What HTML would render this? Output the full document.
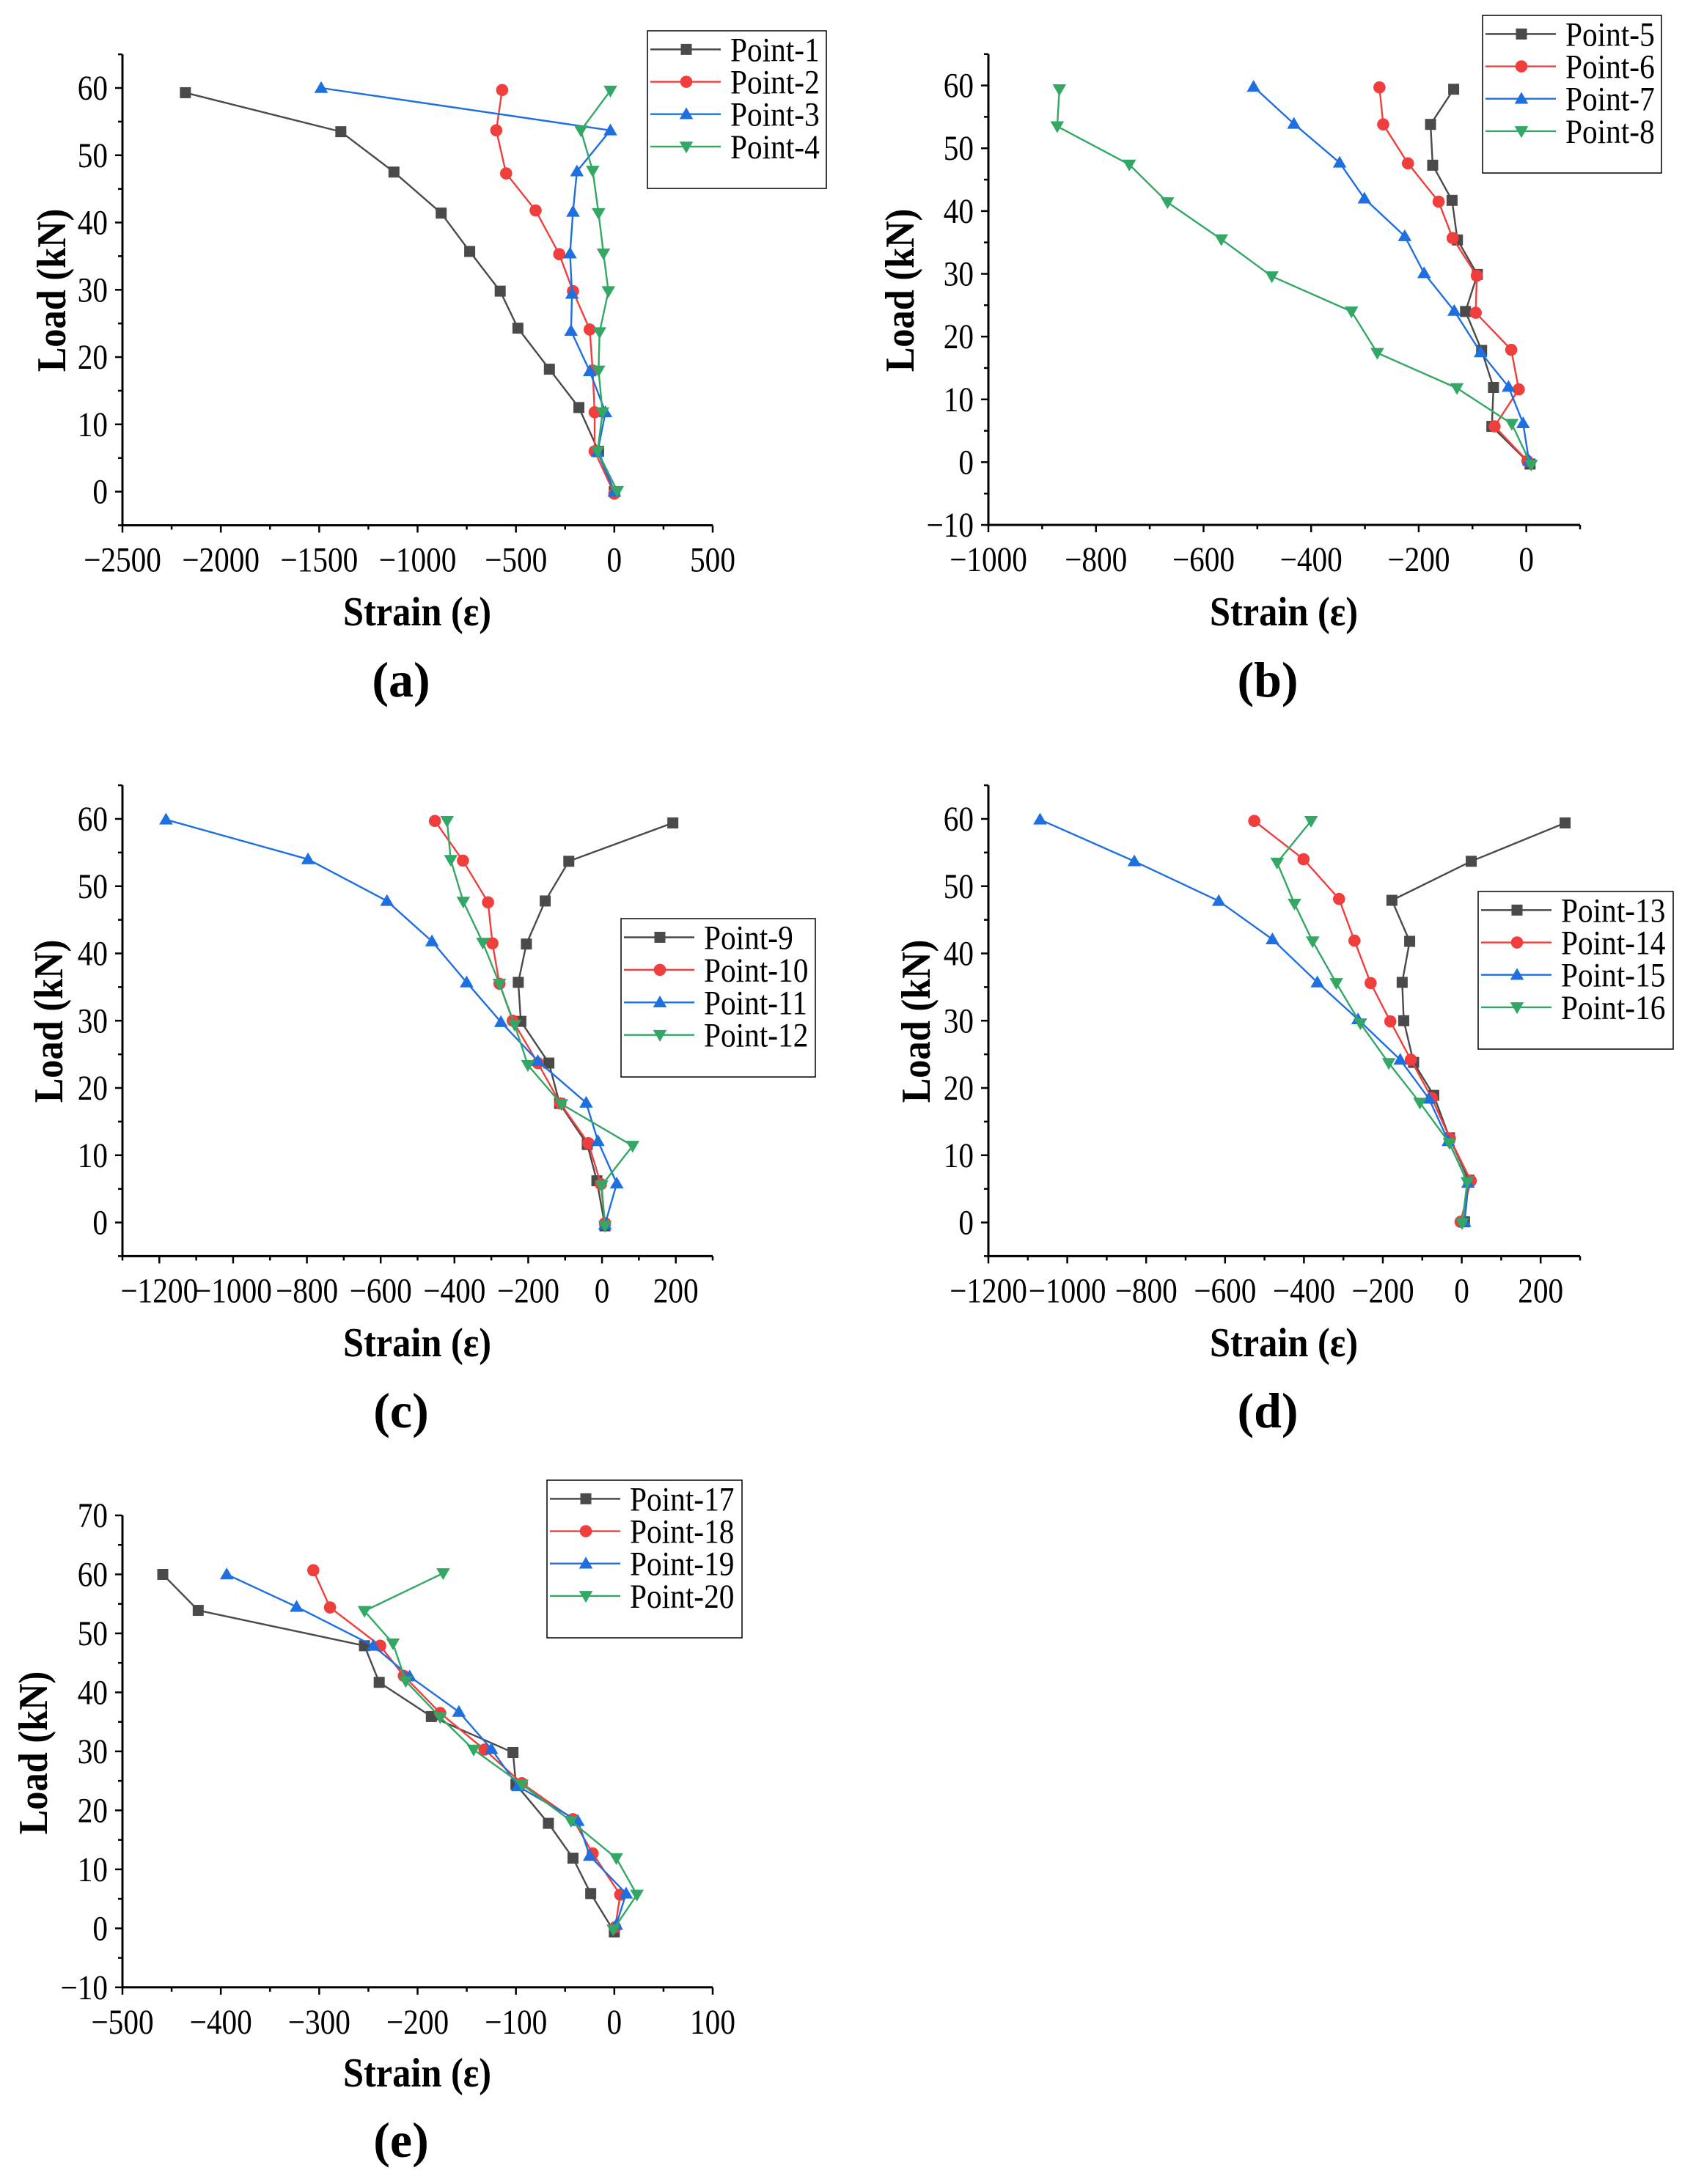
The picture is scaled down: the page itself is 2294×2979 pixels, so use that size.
<!DOCTYPE html>
<html><head><meta charset="utf-8">
<style>
html,body{margin:0;padding:0;background:#fff;}
svg{display:block;}
text{font-family:"Liberation Serif",serif;fill:#000;}
</style></head>
<body>
<svg id="fig" width="2294" height="2979" viewBox="0 0 2294 2979" xmlns="http://www.w3.org/2000/svg"></svg>
<script>
// ---- Data (strain, load) per panel ----
const aNames = ["Point-1","Point-2","Point-3","Point-4"];
const aStrain = [
 [-2180,-1390,-1120,-880,-735,-580,-490,-330,-180,-80,0],
 [-570,-600,-550,-400,-280,-210,-125,-110,-100,-100,0],
 [-1490,-20,-190,-210,-225,-215,-220,-125,-45,-85,0],
 [-20,-170,-110,-80,-55,-30,-75,-80,-60,-85,15]];
const aLoad = [
 [59.3,53.5,47.5,41.4,35.7,29.8,24.3,18.2,12.5,6,0],
 [59.7,53.7,47.3,41.8,35.3,29.8,24.1,18,11.8,6,-0.3],
 [60,53.7,47.6,41.6,35.4,29.4,23.9,17.9,11.8,5.9,0],
 [59.6,53.7,47.7,41.4,35.4,29.8,23.7,18,11.8,6,0.1]];
const bNames = ["Point-5","Point-6","Point-7","Point-8"];
const bStrain = [
 [-135,-178,-174,-138,-128,-91,-113,-83,-61,-64,7],
 [-273,-266,-220,-163,-137,-92,-94,-28,-14,-59,2],
 [-507,-432,-347,-301,-226,-190,-134,-85,-33,-6,5],
 [-868,-872,-738,-667,-567,-473,-325,-277,-129,-27,9]];
const bLoad = [
 [59.4,53.8,47.3,41.7,35.4,29.9,24,17.8,11.9,5.7,-0.3],
 [59.7,53.8,47.6,41.5,35.7,29.7,23.8,17.9,11.6,5.7,0.2],
 [59.8,53.9,47.7,42,36,30.1,24.1,17.5,12,6.2,0.2],
 [59.4,53.5,47.4,41.4,35.5,29.6,24,17.4,11.8,6.1,-0.4]];
const cNames = ["Point-9","Point-10","Point-11","Point-12"];
const cStrain = [
 [192,-90,-154,-205,-227,-220,-144,-115,-40,-14,8],
 [-453,-377,-309,-297,-278,-242,-174,-113,-37,-3,8],
 [-1182,-797,-583,-461,-367,-274,-174,-43,-11,40,8],
 [-420,-410,-376,-323,-278,-237,-201,-110,83,-1,8]];
const cLoad = [
 [59.4,53.7,47.8,41.4,35.7,29.9,23.7,17.7,11.6,6.2,-0.5],
 [59.7,53.8,47.6,41.5,35.5,30,23.7,17.7,11.8,5.7,-0.1],
 [59.9,54,47.8,41.8,35.7,29.8,24,17.8,12.1,5.8,-0.3],
 [59.7,53.9,47.7,41.6,35.5,29.4,23.4,17.6,11.4,5.5,-0.5]];
const dNames = ["Point-13","Point-14","Point-15","Point-16"];
const dStrain = [
 [262,24,-177,-132,-151,-147,-122,-71,-31,18,7],
 [-526,-401,-311,-272,-231,-181,-129,-76,-30,23,-3],
 [-1069,-830,-616,-480,-366,-263,-156,-83,-34,16,7],
 [-382,-468,-424,-378,-318,-257,-185,-106,-31,14,1]];
const dLoad = [
 [59.4,53.7,47.9,41.8,35.7,30,23.8,18.9,12.6,6.3,0.1],
 [59.7,54,48.1,41.9,35.6,29.9,24.2,18.5,12.5,6.2,0.1],
 [59.9,53.7,47.8,42.1,35.7,30.2,24.2,18.4,12.1,5.9,0.1],
 [59.7,53.5,47.4,41.8,35.6,29.6,23.7,17.8,11.8,6,-0.1]];
const eNames = ["Point-17","Point-18","Point-19","Point-20"];
const eStrain = [
 [-459,-423,-254,-239,-186,-103,-100,-67,-42,-24,0],
 [-306,-289,-238,-214,-177,-132,-94,-42,-22,6,1],
 [-394,-323,-245,-208,-158,-125,-98,-37,-25,12,2],
 [-174,-254,-225,-212,-177,-143,-94,-44,2,23,-1]];
const eLoad = [
 [60,53.9,47.9,41.7,35.9,29.8,24.4,17.8,11.9,5.9,-0.6],
 [60.7,54.4,47.9,42.8,36.5,30.3,24.6,18.5,12.7,5.7,0.2],
 [60,54.5,47.9,42.7,36.7,30.4,24.1,18.2,12.3,5.9,0.6],
 [60.2,53.8,48.3,41.9,35.8,30.3,24.4,18.2,11.9,5.7,-0.2]];
// tick arrays
const aXTicks = [-2500,-2000,-1500,-1000,-500,0,500];
const bXTicks = [-1000,-800,-600,-400,-200,0];
const cXTicks = [-1200,-1000,-800,-600,-400,-200,0,200];
const eXTicks = [-500,-400,-300,-200,-100,0,100];
const yTicks60 = [0,10,20,30,40,50,60];
const yTicksB = [-10,0,10,20,30,40,50,60];
const yTicksE = [-10,0,10,20,30,40,50,60,70];

const COLORS = ["#4a4a4a","#ef3e3c","#1e6fdf","#33a865"];
const NS = "http://www.w3.org/2000/svg";
const svg = document.getElementById("fig");
function mk(tag, attrs, parent){
  const e = document.createElementNS(NS, tag);
  for (const k in attrs) e.setAttribute(k, attrs[k]);
  (parent||svg).appendChild(e);
  return e;
}
function fmt(v){ return v<0 ? "\u2212"+Math.abs(v) : String(v); }

function marker(g, k, x, y, s){
  const c = COLORS[k];
  let m;
  if (k===0) m = mk("rect",{x:x-s/2,y:y-s/2,width:s,height:s,fill:c},g);
  else if (k===1) m = mk("circle",{cx:x,cy:y,r:s/2+0.8,fill:c},g);
  else if (k===2) m = mk("polygon",{points:`${x},${y-s*0.62} ${x-s*0.62},${y+s*0.45} ${x+s*0.62},${y+s*0.45}`,fill:c},g);
  else m = mk("polygon",{points:`${x},${y+s*0.62} ${x-s*0.62},${y-s*0.45} ${x+s*0.62},${y-s*0.45}`,fill:c},g);
  return m;
}

function panel(p){
  const g = mk("g",{});
  
  
  const X = v => p.x0 + (v - p.xmin)/(p.xmax - p.xmin)*(p.x1 - p.x0);
  const Y = v => p.yRef0 + (v - p.yv0)/(p.yv1 - p.yv0)*(p.yRef1 - p.yRef0);
  for (let k=0;k<4;k++){
    const sg = mk("g",{},g);
    
    
    const pts = p.xs[k].map((v,i)=>X(v)+","+Y(p.ys[k][i])).join(" ");
    mk("polyline",{points:pts,fill:"none",stroke:COLORS[k],"stroke-width":2.4,"stroke-linejoin":"round"},sg);
    p.xs[k].forEach((v,i)=>{
      const m = marker(sg,k,X(v),Y(p.ys[k][i]),15);
      
      
    });
  }
  const yb = Y(p.ymin), yt = Y(p.ymax);
  const ax = mk("g",{},g);
  
  
  mk("line",{x1:p.x0,y1:yt,x2:p.x0,y2:yb+1.5,stroke:"#000","stroke-width":3},ax);
  mk("line",{x1:p.x0-1.5,y1:yb,x2:p.x1,y2:yb,stroke:"#000","stroke-width":3},ax);
  for (let v=p.xmin; v<=p.xmax+1e-9; v+=p.xMinor){
    const major = p.xTicks.some(t=>Math.abs(t-v)<1e-6);
    mk("line",{x1:X(v),y1:yb,x2:X(v),y2:yb+(major?10:6),stroke:"#000","stroke-width":2.5},ax);
  }
  p.xTicks.forEach(v=>{
    const t = mk("text",{x:0,y:0,"font-size":48,"text-anchor":"middle","font-family":"Liberation Serif, serif",transform:`translate(${X(v)},${yb+63}) scale(0.86,1)`},ax);
    t.textContent = fmt(v);
    
    
  });
  for (let v=p.ymin; v<=p.ymax+1e-9; v+=5){
    const major = p.yTicks.some(t=>Math.abs(t-v)<1e-6);
    mk("line",{x1:p.x0,y1:Y(v),x2:p.x0-(major?10:6),y2:Y(v),stroke:"#000","stroke-width":2.5},ax);
  }
  p.yTicks.forEach(v=>{
    const t = mk("text",{x:0,y:0,"font-size":48,"text-anchor":"end","font-family":"Liberation Serif, serif",transform:`translate(${p.x0-20},${Y(v)+16}) scale(0.86,1)`},ax);
    t.textContent = fmt(v);
    
    
  });
  const yt2 = mk("text",{x:0,y:0,"font-size":56,"font-weight":"bold","text-anchor":"middle","font-family":"Liberation Serif, serif",transform:`translate(${p.ylx+19},${p.yly}) rotate(-90) scale(0.9,1)`},g);
  yt2.textContent = "Load (kN)";
  
  
  const xt = mk("text",{x:0,y:0,"font-size":56,"font-weight":"bold","text-anchor":"middle","font-family":"Liberation Serif, serif",transform:`translate(${p.xlx},${p.xly+19}) scale(0.9,1)`},g);
  xt.textContent = "Strain (\u03b5)";
  
  
  const lab = mk("text",{x:p.xlx-22,y:p.caly+24,"font-size":68,"font-weight":"bold","text-anchor":"middle","font-family":"Liberation Serif, serif"},g);
  lab.textContent = "("+p.id+")";
  
  
  const lg = mk("g",{},g);
  
  
  mk("rect",{x:p.lx0,y:p.ly0,width:p.lx1-p.lx0,height:p.ly1-p.ly0,fill:"#fff",stroke:"#000","stroke-width":1.5},lg);
  for (let k=0;k<4;k++){
    const ry = p.ly0 + (p.ly1-p.ly0)*(0.118+0.2055*k);
    const e = mk("g",{},lg);
    
    
    mk("line",{x1:p.lx0+4,y1:ry,x2:p.lx0+100,y2:ry,stroke:COLORS[k],"stroke-width":2.4},e);
    marker(e,k,p.lx0+53,ry,15);
    const t = mk("text",{x:0,y:0,"font-size":47,"font-family":"Liberation Serif, serif",transform:`translate(${p.lx0+113},${ry+16}) scale(0.88,1)`},e);
    t.textContent = p.names[k];
  }
}

panel({id:"a",names:aNames,xs:aStrain,ys:aLoad,xmin:-2500,xmax:500,x0:167,x1:972,xTicks:aXTicks,xMinor:250,
  ymin:-5,ymax:65,yv0:0,yv1:60,yRef0:670.6,yRef1:120,yTicks:yTicks60,
  lx0:883,lx1:1127,ly0:42,ly1:257,ylx:70,yly:396,xlx:569,xly:834,caly:926});
panel({id:"b",names:bNames,xs:bStrain,ys:bLoad,xmin:-1000,xmax:100,x0:1348,x1:2155,xTicks:bXTicks,xMinor:100,
  ymin:-10,ymax:65,yv0:0,yv1:60,yRef0:630.4,yRef1:116.6,yTicks:yTicksB,
  lx0:2022,lx1:2266,ly0:21,ly1:236,ylx:1227,yly:396,xlx:1751,xly:834,caly:926});
panel({id:"c",names:cNames,xs:cStrain,ys:cLoad,xmin:-1300,xmax:300,x0:167,x1:972,xTicks:cXTicks,xMinor:100,
  ymin:-5,ymax:65,yv0:0,yv1:60,yRef0:1667.5,yRef1:1117,yTicks:yTicks60,
  lx0:847,lx1:1112,ly0:1253,ly1:1469,ylx:66,yly:1393,xlx:569,xly:1831,caly:1923});
panel({id:"d",names:dNames,xs:dStrain,ys:dLoad,xmin:-1200,xmax:300,x0:1348,x1:2155,xTicks:cXTicks,xMinor:100,
  ymin:-5,ymax:65,yv0:0,yv1:60,yRef0:1667.5,yRef1:1117,yTicks:yTicks60,
  lx0:2016,lx1:2282,ly0:1216,ly1:1431,ylx:1249,yly:1393,xlx:1751,xly:1831,caly:1923});
panel({id:"e",names:eNames,xs:eStrain,ys:eLoad,xmin:-500,xmax:100,x0:167,x1:972,xTicks:eXTicks,xMinor:50,
  ymin:-10,ymax:70,yv0:0,yv1:70,yRef0:2630.3,yRef1:2067,yTicks:yTicksE,
  lx0:746,lx1:1012,ly0:2019,ly1:2234,ylx:45,yly:2391,xlx:569,xly:2827,caly:2918});
</script>
</body></html>
